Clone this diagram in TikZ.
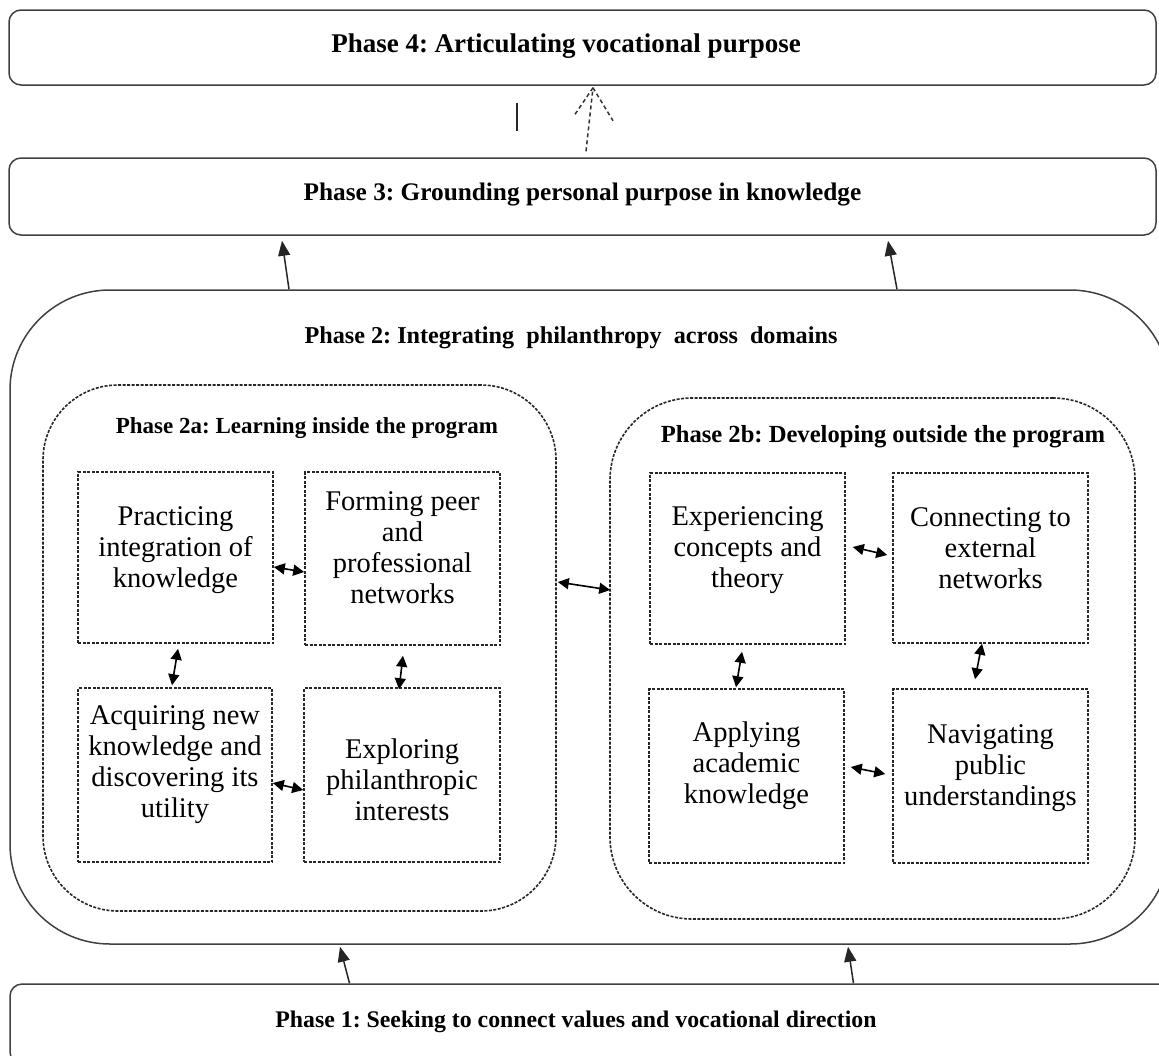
\documentclass[tikz,border=0pt]{standalone}
\usepackage{fontspec}
\setmainfont{Liberation Serif}
\usetikzlibrary{arrows.meta,calc}
\frenchspacing
\newcommand\boxfont{\fontsize{28.5}{31}\selectfont}
\newcommand\titlefont{\fontsize{24.5}{28}\selectfont\bfseries}
\newcommand\subtitlefont{\fontsize{23}{26}\selectfont\bfseries}
\begin{document}
\begin{tikzpicture}[x=1pt,y=-1pt,
  phasebox/.style={draw=black!75, line width=1.5pt, rounded corners=12pt, inner sep=0pt},
  bigbox/.style={draw=black!75, line width=1.5pt, rounded corners=100pt, inner sep=0pt},
  dashbox/.style={draw=black!85, line width=1.6pt, dash pattern=on 3pt off 1.5pt, inner sep=0pt},
  cellbox/.style={dashbox, minimum width=195pt, minimum height=172pt},
  celltext/.style={align=center, font=\boxfont, inner sep=0pt},
  titletext/.style={font=\titlefont, inner sep=0pt},
  subtitletext/.style={font=\subtitlefont, inner sep=0pt},
  twoway/.style={arrows={Triangle[length=11pt,width=11pt]-Triangle[length=11pt,width=11pt]}, line width=1.6pt},
  oneway/.style={arrows={-Triangle[length=15pt,width=12pt]}, line width=1.5pt, draw=black!85},
  dasharrow/.style={draw=black!80, line width=1.5pt, dash pattern=on 4pt off 3pt}
]
\useasboundingbox (0,0) rectangle (1159,1055);
\clip (0,0) rectangle (1159,1055);

% Phase 4 and 3
\node[phasebox, minimum width=1147pt, minimum height=75pt] (P4) at (582.5,47.5) {};
\node[titletext, font=\fontsize{27}{30}\selectfont\bfseries] (P4t) at (566,46) {Phase 4: Articulating vocational purpose};
\node[phasebox, minimum width=1147pt, minimum height=77pt] (P3) at (582.5,196.5) {};
\node[titletext, font=\fontsize{25.3}{29}\selectfont\bfseries] (P3t) at (582.5,195) {Phase 3: Grounding personal purpose in knowledge};

% Phase 2
\node[bigbox, minimum width=1160pt, minimum height=654pt] (P2) at (590,617) {};
\node[titletext, font=\fontsize{24.2}{28}\selectfont\bfseries] (P2t) at (571,338) {Phase 2: Integrating\ \ philanthropy\ \ across\ \ domains};

% Phase 2a
\node[dashbox, rounded corners=75pt, minimum width=513pt, minimum height=526pt] (P2a) at (299.5,648) {};
\node[subtitletext] (P2at) at (307,428) {Phase 2a: Learning inside the program};
% Phase 2b
\node[dashbox, rounded corners=82pt, minimum width=525pt, minimum height=521pt] (P2b) at (872.5,658.5) {};
\node[subtitletext, font=\fontsize{24.6}{28}\selectfont\bfseries] (P2bt) at (883,437) {Phase 2b: Developing outside the program};

% Phase 1
\node[phasebox, minimum width=1165pt, minimum height=80pt] (P1) at (592.5,1024) {};
\node[titletext, font=\fontsize{23.8}{28}\selectfont\bfseries] (P1t) at (576,1022) {Phase 1: Seeking to connect values and vocational direction};

% cells 2a
\node[cellbox, minimum height=171pt] (A) at (175.5,557.5) {};
\node[celltext] (At) at (175.5,550) {Practicing\\integration of\\knowledge};
\node[cellbox, minimum height=173pt] (B) at (402.5,558.5) {};
\node[celltext] (Bt) at (402.5,548) {Forming peer\\and\\professional\\networks};
\node[cellbox, minimum width=194pt, minimum height=174pt] (C) at (175,775) {};
\node[celltext] (Ct) at (175,765) {Acquiring new\\knowledge and\\discovering its\\utility};
\node[cellbox, minimum width=196pt, minimum height=174pt] (D) at (402,775) {};
\node[celltext] (Dt) at (402,780) {Exploring\\philanthropic\\interests};

% cells 2b
\node[cellbox, minimum height=171pt] (E) at (747.5,558.5) {};
\node[celltext] (Et) at (747.5,550) {Experiencing\\concepts and\\theory};
\node[cellbox, minimum height=170pt] (F) at (990.5,558) {};
\node[celltext] (Ft) at (990.5,548) {Connecting to\\external\\networks};
\node[cellbox, minimum height=174pt] (G) at (746.5,776) {};
\node[celltext] (Gt) at (746.5,766) {Applying\\academic\\knowledge};
\node[cellbox, minimum height=174pt] (H) at (990.5,776) {};
\node[celltext] (Ht) at (990.5,768) {Navigating\\public\\understandings};

% arrows inside 2a
\draw[twoway] ([yshift=-9.5pt]A.east) -- ([yshift=-13.5pt]B.west);
\draw[twoway] ([xshift=2.5pt,yshift=-5pt]A.south) -- ([xshift=-3pt,yshift=2pt]C.north);
\draw[twoway] ([xshift=0.5pt,yshift=-10pt]B.south) -- ([xshift=-3pt,yshift=-2pt]D.north);
\draw[twoway] ([yshift=-8pt]C.east) -- ([yshift=-15pt]D.west);
% between 2a and 2b
\draw[twoway] ([xshift=1pt,yshift=66pt]P2a.east) -- ([xshift=1pt,yshift=68.5pt]P2b.west);
% arrows inside 2b
\draw[twoway] ([xshift=7pt,yshift=11.5pt]E.east) -- ([xshift=-5pt,yshift=3pt]F.west);
\draw[twoway] ([xshift=-5.5pt,yshift=-7pt]E.south) -- ([xshift=-10.5pt,yshift=1pt]G.north);
\draw[twoway] ([xshift=-8.5pt]F.south) -- ([xshift=-15.5pt,yshift=9pt]H.north);
\draw[twoway] ([xshift=6pt,yshift=9pt]G.east) -- ([xshift=-7pt,yshift=2pt]H.west);

% Phase 2 -> Phase 3
\draw[oneway] ([xshift=-301pt]P2.north) -- ([xshift=-300.5pt,yshift=-5pt]P3.south);
\draw[oneway] ([xshift=307pt]P2.north) -- ([xshift=305.5pt,yshift=-5pt]P3.south);
% Phase 1 -> Phase 2
\draw[oneway] ([xshift=-243pt]P1.north) -- ([xshift=-250pt,yshift=-2pt]P2.south);
\draw[oneway] ([xshift=261pt]P1.north) -- ([xshift=258pt,yshift=-2pt]P2.south);

% Phase 3 -> Phase 4 (dashed open arrow) and short stroke
\coordinate (tip) at ([xshift=10.5pt,yshift=-2pt]P4.south);
\coordinate (tail) at ([xshift=3.5pt,yshift=6pt]P3.north);
\coordinate (wingL) at ($(tip)+(-19,28)$);
\coordinate (wingR) at ($(tip)+(20,33)$);
\draw[dasharrow] (tail) -- (tip);
\draw[dasharrow] (tip) -- (wingL);
\draw[dasharrow] (tip) -- (wingR);
\coordinate (barTop) at ([xshift=-65.5pt,yshift=-17pt]P4.south);
\coordinate (barBot) at ([xshift=-65.5pt,yshift=-45pt]P4.south);
\draw[line width=1.4pt, black!85] (barTop) -- (barBot);
\end{tikzpicture}
\end{document}
